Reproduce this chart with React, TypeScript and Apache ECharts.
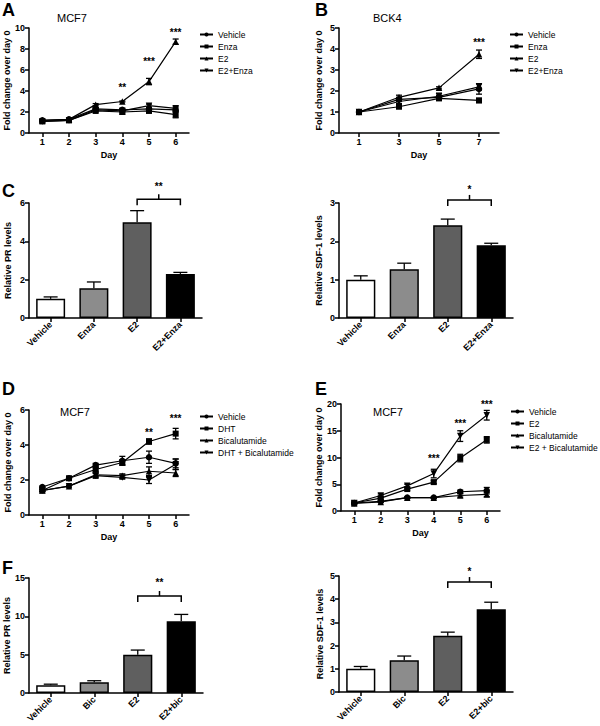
import React, { useEffect, useRef } from 'react';
import * as echarts from 'echarts';

const FONT = 'Liberation Sans, Arial, Helvetica, sans-serif';

// ---------- Panel A (MCF7, Enza) ----------
const daysA = ['1', '2', '3', '4', '5', '6'];
const aVehicle = [1.2, 1.3, 2.3, 2.2, 2.3, 2.2];
const aVehicleErr = [0.05, 0.05, 0.1, 0.15, 0.15, 0.2];
const aEnza = [1.1, 1.2, 2.1, 2.0, 2.1, 1.75];
const aEnzaErr = [0.05, 0.05, 0.1, 0.2, 0.1, 0.3];
const aE2 = [1.2, 1.3, 2.7, 3.0, 4.9, 8.7];
const aE2Err = [0.05, 0.05, 0.1, 0.05, 0.3, 0.25];
const aE2Enza = [1.1, 1.2, 2.2, 2.1, 2.6, 2.35];
const aE2EnzaErr = [0.05, 0.05, 0.1, 0.1, 0.15, 0.2];
const sigA = [
  { day: '4', y: 4.3, text: '**' },
  { day: '5', y: 6.8, text: '***' },
  { day: '6', y: 9.6, text: '***' },
];

// ---------- Panel B (BCK4) ----------
const daysB = ['1', '3', '5', '7'];
const bVehicle = [1.0, 1.6, 1.7, 2.1];
const bVehicleErr = [0.05, 0.1, 0.1, 0.25];
const bEnza = [1.0, 1.25, 1.65, 1.55];
const bEnzaErr = [0.1, 0.05, 0.1, 0.1];
const bE2 = [1.0, 1.7, 2.15, 3.75];
const bE2Err = [0.05, 0.1, 0.05, 0.2];
const bE2Enza = [1.0, 1.5, 1.75, 2.2];
const bE2EnzaErr = [0.05, 0.1, 0.15, 0.15];
const sigB = [{ day: '7', y: 4.29, text: '***' }];

// ---------- Panel C ----------
const groupsC = ['Vehicle', 'Enza', 'E2', 'E2+Enza'];
const cPR = [1.0, 1.55, 5.0, 2.3];
const cPRErr = [0.1, 0.33, 0.6, 0.08];
const cSDF = [1.0, 1.27, 2.42, 1.9];
const cSDFErr = [0.1, 0.16, 0.16, 0.05];
const bracketC1 = { from: 'E2', to: 'E2+Enza', y: 6.2, starY: 6.85, text: '**' };
const bracketC2 = { from: 'E2', to: 'E2+Enza', y: 3.08, starY: 3.35, text: '*' };

// ---------- Panel D (MCF7, DHT) ----------
const daysD = ['1', '2', '3', '4', '5', '6'];
const dVehicle = [1.6, 2.1, 2.85, 3.1, 3.3, 2.95];
const dVehicleErr = [0.05, 0.05, 0.1, 0.25, 0.35, 0.25];
const dDHT = [1.4, 2.1, 2.6, 3.0, 4.2, 4.65];
const dDHTErr = [0.05, 0.05, 0.1, 0.15, 0.15, 0.3];
const dBic = [1.4, 1.65, 2.3, 2.25, 2.5, 2.4];
const dBicErr = [0.05, 0.05, 0.1, 0.1, 0.25, 0.2];
const dDHTBic = [1.4, 1.65, 2.25, 2.15, 2.0, 2.9];
const dDHTBicErr = [0.05, 0.05, 0.15, 0.1, 0.2, 0.3];
const sigD = [
  { day: '5', y: 4.74, text: '**' },
  { day: '6', y: 5.49, text: '***' },
];

// ---------- Panel E (MCF7, E2) ----------
const daysE = ['1', '2', '3', '4', '5', '6'];
const eVehicle = [1.5, 1.8, 2.5, 2.5, 3.6, 3.8];
const eVehicleErr = [0.1, 0.1, 0.1, 0.1, 0.3, 0.6];
const eE2 = [1.5, 2.4, 4.1, 5.4, 9.9, 13.3];
const eE2Err = [0.1, 0.2, 0.2, 0.3, 0.7, 0.6];
const eBic = [1.4, 1.7, 2.5, 2.5, 2.9, 3.1];
const eBicErr = [0.1, 0.1, 0.1, 0.1, 0.3, 0.4];
const eE2Bic = [1.5, 2.9, 4.7, 7.0, 14.0, 17.9];
const eE2BicErr = [0.1, 0.3, 0.3, 0.8, 1.0, 0.9];
const sigE = [
  { day: '4', y: 9.9, text: '***' },
  { day: '5', y: 16.4, text: '***' },
  { day: '6', y: 20.0, text: '***' },
];

// ---------- Panel F ----------
const groupsF = ['Vehicle', 'Bic', 'E2', 'E2+bic'];
const fPR = [1.0, 1.4, 5.0, 9.35];
const fPRErr = [0.15, 0.2, 0.6, 0.9];
const fSDF = [1.0, 1.37, 2.42, 3.57];
const fSDFErr = [0.1, 0.18, 0.16, 0.3];
const bracketF1 = { from: 'E2', to: 'E2+bic', y: 12.65, starY: 14.35, text: '**' };
const bracketF2 = { from: 'E2', to: 'E2+bic', y: 4.74, starY: 5.2, text: '*' };

const barColors = ['#ffffff', '#8c8c8c', '#5f5f5f', '#000000'];

// ---------- helpers ----------
const lineStyle = { stroke: '#000', lineWidth: 1.3 };

const errRender = (capHalf: number, upOnly: boolean) => (params: any, api: any) => {
  const x = api.value(0);
  const pHi = api.coord([x, api.value(2)]);
  const pLo = api.coord([x, api.value(1)]);
  const children: any[] = [
    { type: 'line', shape: { x1: pHi[0], y1: pHi[1], x2: pLo[0], y2: pLo[1] }, style: lineStyle },
    { type: 'line', shape: { x1: pHi[0] - capHalf, y1: pHi[1], x2: pHi[0] + capHalf, y2: pHi[1] }, style: lineStyle },
  ];
  if (!upOnly) {
    children.push({ type: 'line', shape: { x1: pLo[0] - capHalf, y1: pLo[1], x2: pLo[0] + capHalf, y2: pLo[1] }, style: lineStyle });
  }
  return { type: 'group', children };
};

const starText = (text: string, x: number, y: number) => ({
  type: 'text',
  x,
  y,
  style: { text, align: 'center', verticalAlign: 'middle', fontSize: 10, fontWeight: 'bold', fill: '#000', fontFamily: FONT },
});

function sigSeries(g: number, cats: string[], sig: { day: string; y: number; text: string }[]) {
  return {
    type: 'custom',
    xAxisIndex: g,
    yAxisIndex: g,
    silent: true,
    z: 5,
    encode: { x: 0, y: 1 },
    data: sig.map((s, k) => [cats.indexOf(s.day), s.y, k]),
    renderItem: (params: any, api: any) => {
      const p = api.coord([api.value(0), api.value(1)]);
      return starText(sig[api.value(2)].text, p[0], p[1]);
    },
  };
}

function bracketSeries(g: number, cats: string[], b: { from: string; to: string; y: number; starY: number; text: string }) {
  return {
    type: 'custom',
    xAxisIndex: g,
    yAxisIndex: g,
    silent: true,
    z: 5,
    encode: { x: [0, 1], y: 2 },
    data: [[cats.indexOf(b.from), cats.indexOf(b.to), b.y]],
    renderItem: (params: any, api: any) => {
      const p1 = api.coord([api.value(0), api.value(2)]);
      const p2 = api.coord([api.value(1), api.value(2)]);
      const ps = api.coord([api.value(0), b.starY]);
      const mx = (p1[0] + p2[0]) / 2;
      const leg = 6;
      return {
        type: 'group',
        children: [
          {
            type: 'polyline',
            shape: { points: [[p1[0], p1[1] + leg], [p1[0], p1[1]], [p2[0], p2[1]], [p2[0], p2[1] + leg]] },
            style: { stroke: '#000', lineWidth: 1.5, fill: 'none' },
          },
          { type: 'line', shape: { x1: mx, y1: p1[1], x2: mx, y2: p1[1] - 5 }, style: { stroke: '#000', lineWidth: 1.5 } },
          starText(b.text, mx, ps[1]),
        ],
      };
    },
  };
}

type LineDef = { name: string; data: number[]; err: number[]; symbol: string; rotate?: number };

function lineSeries(g: number, panel: string, defs: LineDef[]) {
  const out: any[] = [];
  defs.forEach((d) => {
    out.push({
      type: 'line',
      name: panel + '|' + d.name,
      xAxisIndex: g,
      yAxisIndex: g,
      data: d.data,
      symbol: d.symbol,
      symbolRotate: d.rotate || 0,
      symbolSize: d.symbol === 'rect' ? 6 : 6.5,
      showSymbol: true,
      lineStyle: { color: '#000', width: 1.2 },
      itemStyle: { color: '#000' },
      z: 3,
    });
    out.push({
      type: 'custom',
      xAxisIndex: g,
      yAxisIndex: g,
      silent: true,
      z: 4,
      encode: { x: 0, y: [1, 2] },
      data: d.data.map((v, i) => [i, v - d.err[i], v + d.err[i]]),
      renderItem: errRender(3, false),
    });
  });
  return out;
}

function barSeries(g: number, values: number[], errs: number[]) {
  return [
    {
      type: 'bar',
      xAxisIndex: g,
      yAxisIndex: g,
      barWidth: '67%',
      data: values.map((v, i) => ({ value: v, itemStyle: { color: barColors[i] } })),
      itemStyle: { borderColor: '#000', borderWidth: 1.5 },
      z: 3,
    },
    {
      type: 'custom',
      xAxisIndex: g,
      yAxisIndex: g,
      silent: true,
      z: 2,
      encode: { x: 0, y: [1, 2] },
      data: values.map((v, i) => [i, v, v + errs[i]]),
      renderItem: errRender(7, true),
    },
  ];
}

const axisLineStyle = { color: '#000', width: 1.5 };
const tickLabel = { fontSize: 9, fontWeight: 'bold', color: '#000', fontFamily: FONT, margin: 4 };

function yAxis(g: number, max: number, interval: number, name: string, nameGap: number) {
  return {
    type: 'value',
    gridIndex: g,
    min: 0,
    max,
    interval,
    name,
    nameLocation: 'middle',
    nameRotate: 90,
    nameGap,
    nameTextStyle: { fontSize: 9, fontWeight: 'bold', color: '#000', fontFamily: FONT },
    axisLine: { show: true, lineStyle: axisLineStyle },
    axisTick: { show: true, length: 4, lineStyle: axisLineStyle },
    axisLabel: tickLabel,
    splitLine: { show: false },
  };
}

function xAxisCat(g: number, cats: string[], name: string, rotate: number) {
  return {
    type: 'category',
    gridIndex: g,
    data: cats,
    boundaryGap: true,
    name,
    nameLocation: 'middle',
    nameGap: 17,
    nameTextStyle: { fontSize: 9, fontWeight: 'bold', color: '#000', fontFamily: FONT },
    axisLine: { show: true, lineStyle: axisLineStyle },
    axisTick: { show: true, alignWithLabel: true, length: 4, lineStyle: axisLineStyle },
    axisLabel: { ...tickLabel, rotate, interval: 0, margin: rotate ? 5 : 4 },
    splitLine: { show: false },
  };
}

function legend(left: number, top: number, panel: string, names: string[]) {
  return {
    left,
    top,
    orient: 'vertical',
    padding: 0,
    itemGap: 3,
    itemWidth: 13,
    itemHeight: 5,
    data: names.map((n) => panel + '|' + n),
    formatter: (n: string) => n.split('|')[1],
    textStyle: { fontSize: 8.5, color: '#000', fontFamily: FONT, lineHeight: 9 },
    selectedMode: false,
  };
}

const txt = (text: string, left: number, top: number, fontSize: number, bold: boolean) => ({
  type: 'text',
  left,
  top,
  style: { text, fontSize, fontWeight: bold ? 'bold' : 'normal', fill: '#000', fontFamily: FONT },
});

export default function App() {
  const ref = useRef<HTMLDivElement>(null);
  useEffect(() => {
    document.body.style.margin = '0';
    const chart = echarts.init(ref.current!, null, { renderer: 'svg' });

    const defsA: LineDef[] = [
      { name: 'Vehicle', data: aVehicle, err: aVehicleErr, symbol: 'circle' },
      { name: 'Enza', data: aEnza, err: aEnzaErr, symbol: 'rect' },
      { name: 'E2', data: aE2, err: aE2Err, symbol: 'triangle' },
      { name: 'E2+Enza', data: aE2Enza, err: aE2EnzaErr, symbol: 'triangle', rotate: 180 },
    ];
    const defsB: LineDef[] = [
      { name: 'Vehicle', data: bVehicle, err: bVehicleErr, symbol: 'circle' },
      { name: 'Enza', data: bEnza, err: bEnzaErr, symbol: 'rect' },
      { name: 'E2', data: bE2, err: bE2Err, symbol: 'triangle' },
      { name: 'E2+Enza', data: bE2Enza, err: bE2EnzaErr, symbol: 'triangle', rotate: 180 },
    ];
    const defsD: LineDef[] = [
      { name: 'Vehicle', data: dVehicle, err: dVehicleErr, symbol: 'circle' },
      { name: 'DHT', data: dDHT, err: dDHTErr, symbol: 'rect' },
      { name: 'Bicalutamide', data: dBic, err: dBicErr, symbol: 'triangle' },
      { name: 'DHT + Bicalutamide', data: dDHTBic, err: dDHTBicErr, symbol: 'triangle', rotate: 180 },
    ];
    const defsE: LineDef[] = [
      { name: 'Vehicle', data: eVehicle, err: eVehicleErr, symbol: 'circle' },
      { name: 'E2', data: eE2, err: eE2Err, symbol: 'rect' },
      { name: 'Bicalutamide', data: eBic, err: eBicErr, symbol: 'triangle' },
      { name: 'E2 + Bicalutamide', data: eE2Bic, err: eE2BicErr, symbol: 'triangle', rotate: 180 },
    ];

    const gridBase = { containLabel: false, outerBoundsMode: 'none' };
    const option: any = {
      animation: false,
      textStyle: { fontFamily: FONT },
      grid: [
        { ...gridBase, left: 29, top: 28, width: 160, height: 105 },
        { ...gridBase, left: 339, top: 28, width: 160, height: 105 },
        { ...gridBase, left: 29, top: 203, width: 173, height: 115 },
        { ...gridBase, left: 339, top: 203, width: 174, height: 115 },
        { ...gridBase, left: 29, top: 410, width: 160, height: 105 },
        { ...gridBase, left: 341, top: 404, width: 159, height: 107 },
        { ...gridBase, left: 29, top: 578, width: 174, height: 115 },
        { ...gridBase, left: 339, top: 576, width: 174, height: 116 },
      ],
      xAxis: [
        xAxisCat(0, daysA, 'Day', 0),
        xAxisCat(1, daysB, 'Day', 0),
        xAxisCat(2, groupsC, '', 45),
        xAxisCat(3, groupsC, '', 45),
        xAxisCat(4, daysD, 'Day', 0),
        xAxisCat(5, daysE, 'Day', 0),
        xAxisCat(6, groupsF, '', 45),
        xAxisCat(7, groupsF, '', 45),
      ],
      yAxis: [
        yAxis(0, 10, 2, 'Fold change over day 0', 17),
        yAxis(1, 5, 1, 'Fold change over day 0', 16),
        yAxis(2, 6, 2, 'Relative PR levels', 17),
        yAxis(3, 3, 1, 'Relative SDF-1 levels', 16),
        yAxis(4, 6, 2, 'Fold change over day 0', 17),
        yAxis(5, 20, 5, 'Fold change over day 0', 17),
        yAxis(6, 15, 5, 'Relative PR levels', 17),
        yAxis(7, 5, 1, 'Relative SDF-1 levels', 15),
      ],
      legend: [
        legend(199, 30, 'A', defsA.map((d) => d.name)),
        legend(509, 30, 'B', defsB.map((d) => d.name)),
        legend(199, 412, 'D', defsD.map((d) => d.name)),
        legend(510, 407, 'E', defsE.map((d) => d.name)),
      ],
      graphic: [
        txt('A', 2, 1, 18, true),
        txt('B', 315, 1, 18, true),
        txt('C', 2, 182, 18, true),
        txt('D', 2, 380, 18, true),
        txt('E', 315, 380, 18, true),
        txt('F', 2, 559, 18, true),
        txt('MCF7', 57, 12, 11, false),
        txt('BCK4', 373, 12, 11, false),
        txt('MCF7', 60, 406, 11, false),
        txt('MCF7', 373, 406, 11, false),
      ],
      series: [
        ...lineSeries(0, 'A', defsA),
        sigSeries(0, daysA, sigA),
        ...lineSeries(1, 'B', defsB),
        sigSeries(1, daysB, sigB),
        ...barSeries(2, cPR, cPRErr),
        bracketSeries(2, groupsC, bracketC1),
        ...barSeries(3, cSDF, cSDFErr),
        bracketSeries(3, groupsC, bracketC2),
        ...lineSeries(4, 'D', defsD),
        sigSeries(4, daysD, sigD),
        ...lineSeries(5, 'E', defsE),
        sigSeries(5, daysE, sigE),
        ...barSeries(6, fPR, fPRErr),
        bracketSeries(6, groupsF, bracketF1),
        ...barSeries(7, fSDF, fSDFErr),
        bracketSeries(7, groupsF, bracketF2),
      ],
    };
    chart.setOption(option);
    return () => chart.dispose();
  }, []);
  return <div ref={ref} style={{ width: 600, height: 726 }} />;
}
